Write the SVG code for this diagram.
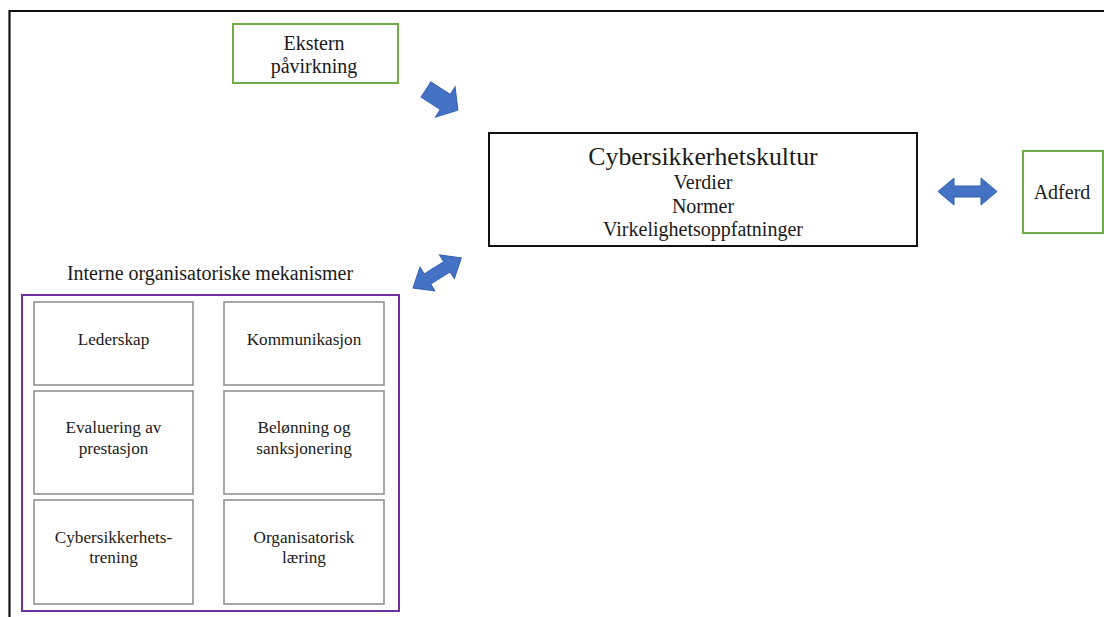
<svg xmlns="http://www.w3.org/2000/svg" width="1104" height="617" viewBox="0 0 1104 617">
<style>
text{font-family:'Liberation Serif','DejaVu Serif',serif;fill:#1a1a1a;text-anchor:middle}
.green{fill:#fff;stroke:#70AD47;stroke-width:2}
.inner{fill:#fff;stroke:#8a8a8a;stroke-width:1.5}
.arrow{fill:#4472C4;stroke:#3560AE;stroke-width:1}
.t16{font-size:17.2px}
.t17{font-size:20px}
</style>
<rect x="0" y="0" width="1104" height="617" fill="#fff"/>
<path d="M9.5,617 V11 H1104" fill="none" stroke="#111" stroke-width="2.2"/>
<g font-family="Liberation Serif, DejaVu Serif, serif">
<g id="ekstern">
<rect class="green" x="233" y="24" width="165" height="59"/>
<text class="t17" x="314" y="50">Ekstern</text>
<text class="t17" x="314" y="73">påvirkning</text>
</g>

<g id="kultur">
<rect x="489" y="133" width="428" height="113" fill="#fff" stroke="#111" stroke-width="2"/>
<text x="703" y="165" font-size="25.8">Cybersikkerhetskultur</text>
<text class="t17" x="703" y="189">Verdier</text>
<text class="t17" x="703" y="213">Normer</text>
<text class="t17" x="703" y="236">Virkelighetsoppfatninger</text>
</g>

<g id="adferd">
<rect class="green" x="1023" y="151" width="80" height="82"/>
<text class="t17" x="1062" y="199">Adferd</text>
</g>

<g id="interne">
<text class="t17" x="210" y="280">Interne organisatoriske mekanismer</text>
<rect x="22" y="295" width="377" height="316" fill="#fff" stroke="#7030A0" stroke-width="2"/>
</g>

<g id="lederskap">
<rect class="inner" x="34" y="302" width="159" height="83"/>
<text class="t16" x="113.500" y="345">Lederskap</text>
</g>
<g id="kommunikasjon">
<rect class="inner" x="224" y="302" width="160" height="83"/>
<text class="t16" x="304" y="345">Kommunikasjon</text>
</g>
<g id="evaluering">
<rect class="inner" x="34" y="391" width="159" height="103"/>
<text class="t16" x="113.500" y="433">Evaluering av</text>
<text class="t16" x="113.500" y="454">prestasjon</text>
</g>
<g id="belonning">
<rect class="inner" x="224" y="391" width="160" height="103"/>
<text class="t16" x="304" y="433">Belønning og</text>
<text class="t16" x="304" y="454">sanksjonering</text>
</g>
<g id="trening">
<rect class="inner" x="34" y="500" width="159" height="104"/>
<text class="t16" x="113.500" y="543">Cybersikkerhets-</text>
<text class="t16" x="113.500" y="563">trening</text>
</g>
<g id="laering">
<rect class="inner" x="224" y="500" width="160" height="104"/>
<text class="t16" x="304" y="543">Organisatorisk</text>
<text class="t16" x="304" y="563">læring</text>
</g>
</g>
<g id="connectors">
<polygon class="arrow" transform="translate(426,89.5) rotate(33)" points="0,-9 23,-9 23,-18 38,0 23,18 23,9 0,9"/>
<polygon class="arrow" transform="translate(413,288) rotate(-32)" points="0,0 17,-14 17,-6 40,-6 40,-14 57,0 40,14 40,6 17,6 17,14"/>
<polygon class="arrow" transform="translate(938,191.5)" points="0,0 16,-13.5 16,-5.5 43,-5.5 43,-13.5 59,0 43,13.5 43,5.5 16,5.5 16,13.5"/>
</g>
</svg>
